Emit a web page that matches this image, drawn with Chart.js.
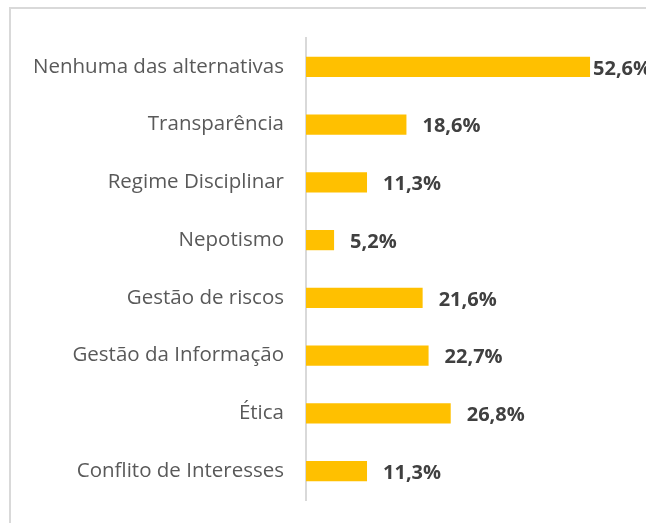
<!DOCTYPE html>
<html>
<head>
<meta charset="utf-8">
<script src="https://cdn.jsdelivr.net/npm/chart.js@4"></script>
<style>
  html, body { margin: 0; padding: 0; background: #fff; overflow: hidden; }
  #moldura {
    position: absolute; left: 9px; top: 7px; width: 700px; height: 600px;
    border: 2px solid #d9d9d9; box-sizing: border-box;
  }
  #wrap { position: absolute; left: 0; top: 0; width: 646px; height: 523px; }
</style>
</head>
<body>
<div id="moldura"></div>
<div id="wrap"><canvas id="grafico"></canvas></div>
<script>
const categorias = [
  "Nenhuma das alternativas",
  "Transparência",
  "Regime Disciplinar",
  "Nepotismo",
  "Gestão de riscos",
  "Gestão da Informação",
  "Ética",
  "Conflito de Interesses"
];
const percentuais = [52.6, 18.6, 11.3, 5.2, 21.6, 22.7, 26.8, 11.3];

const FONTE = "'Open Sans', 'Liberation Sans', sans-serif";

// rótulos de valor à direita das barras
const rotulos = {
  id: "rotulos",
  afterDatasetsDraw(chart) {
    const ctx = chart.ctx;
    const meta = chart.getDatasetMeta(0);
    ctx.save();
    ctx.font = "bold 20px " + FONTE;
    ctx.fillStyle = "#404040";
    ctx.textBaseline = "middle";
    meta.data.forEach(function (bar, i) {
      const texto = percentuais[i].toFixed(1).replace(".", ",") + "%";
      const w = ctx.measureText(texto).width;
      let x = bar.x + 16;
      if (x + w > chart.width) x = bar.x + 3; // não cabe: encosta na barra
      ctx.fillText(texto, x, bar.y + 2);
    });
    ctx.restore();
  }
};

const ctx = document.getElementById("grafico").getContext("2d");
new Chart(ctx, {
  type: "bar",
  data: {
    labels: categorias,
    datasets: [{
      data: percentuais,
      backgroundColor: "#ffc000",
      barPercentage: 0.35,
      categoryPercentage: 1
    }]
  },
  options: {
    indexAxis: "y",
    responsive: true,
    maintainAspectRatio: false,
    animation: false,
    layout: { padding: { top: 38, bottom: 23, left: 0, right: 16 } },
    plugins: {
      legend: { display: false },
      tooltip: { enabled: false }
    },
    scales: {
      x: { display: false, min: 0, max: 60 },
      y: {
        afterFit: function (scale) {
          scale.width = 306;
          scale.paddingTop = 0;
          scale.paddingBottom = 0;
        },
        grid: { display: false, drawTicks: false },
        border: { display: true, color: "#d9d9d9", width: 2 },
        ticks: {
          padding: 22,
          color: "#595959",
          font: { family: FONTE, size: 20.5 }
        }
      }
    }
  },
  plugins: [rotulos]
});
</script>
</body>
</html>
